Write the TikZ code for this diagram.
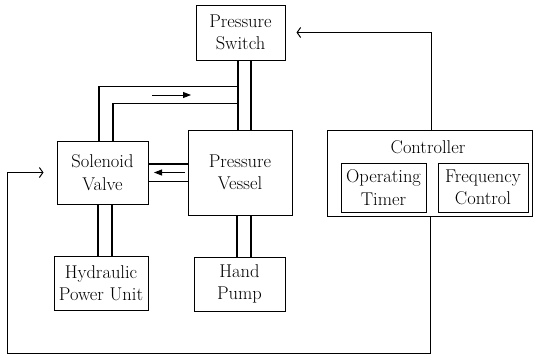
\documentclass[tikz,border=0pt]{standalone}
\usetikzlibrary{arrows.meta,calc}
\begin{document}
\begin{tikzpicture}[x=1pt,y=-1pt,
  box/.style={draw,line width=1pt,inner sep=0pt,align=center,
    font=\fontsize{18.5}{22.5}\selectfont},
  txt/.style={inner sep=0pt,font=\fontsize{18.5}{22.5}\selectfont},
  pipe/.style={line width=1.3pt},
  sig/.style={line width=1pt,-{Straight Barb[length=3.5pt,width=10pt,line width=1pt]}},
  flow/.style={line width=0.9pt,-{Triangle[length=8pt,width=6pt]}}]
\useasboundingbox (0,0) rectangle (534,356);
% boxes
\node[box,minimum width=89pt,minimum height=55pt] (ps) at (240.5,32.5) {Pressure\\Switch};
\node[box,minimum width=104pt,minimum height=85pt] (pv) at (240,172.5) {Pressure\\Vessel};
\node[box,minimum width=91pt,minimum height=63pt] (sv) at (102.5,172.5) {Solenoid\\Valve};
\node[box,minimum width=94pt,minimum height=54pt] (hp) at (101,283) {Hydraulic\\Power Unit};
\node[box,minimum width=91pt,minimum height=54pt] (hd) at (239.5,284) {Hand\\Pump};
\node[box,minimum width=205pt,minimum height=86pt] (ctl) at (429.5,173) {};
\node[txt] (ctltxt) at (428,147) {Controller};
\node[box,minimum width=85pt,minimum height=49pt] (ot) at (383.5,187.5) {Operating\\Timer};
\node[box,minimum width=90pt,minimum height=49pt] (fc) at (483,187.5) {Frequency\\Control};
% pipes switch - vessel
\draw[pipe] ([xshift=-2.5pt]ps.south) -- ([xshift=-2.5pt]ps.south |- pv.north);
\draw[pipe] ([xshift=10.5pt]ps.south) -- ([xshift=10.5pt]ps.south |- pv.north);
% loop pipes to solenoid
\draw[pipe] ([xshift=-3.5pt]sv.north) |- ($(ps.south)+(-2.5,26)$);
\draw[pipe] ([xshift=10.5pt]sv.north) |- ($(ps.south)+(-2.5,43)$);
\coordinate (f1) at (152,95);
\coordinate (f2) at (191,95);
\draw[flow] (f1) -- (f2);
% pipes solenoid - vessel
\draw[pipe] ([yshift=8.5pt]sv.east) -- ([yshift=8.5pt]sv.east -| pv.west);
\draw[pipe] ([yshift=-9pt]sv.east) -- ([yshift=-9pt]sv.east -| pv.west);
\coordinate (f3) at (185,172.5);
\coordinate (f4) at (154,172.5);
\draw[flow] (f3) -- (f4);
% pipes down
\draw[pipe] ([xshift=-4.5pt]sv.south) -- ([xshift=-4.5pt]sv.south |- hp.north);
\draw[pipe] ([xshift=9.5pt]sv.south) -- ([xshift=9.5pt]sv.south |- hp.north);
\draw[pipe] ([xshift=-3pt]pv.south) -- ([xshift=-3pt]pv.south |- hd.north);
\draw[pipe] ([xshift=11pt]pv.south) -- ([xshift=11pt]pv.south |- hd.north);
% signal lines
\draw[sig] ([xshift=1.5pt]ctl.north) |- ([xshift=11pt]ps.east);
\coordinate (c1) at (7,353);
\draw[sig] ([xshift=0.5pt]ctl.south) |- (c1) |- ([xshift=-13pt]sv.west);
\end{tikzpicture}
\end{document}
